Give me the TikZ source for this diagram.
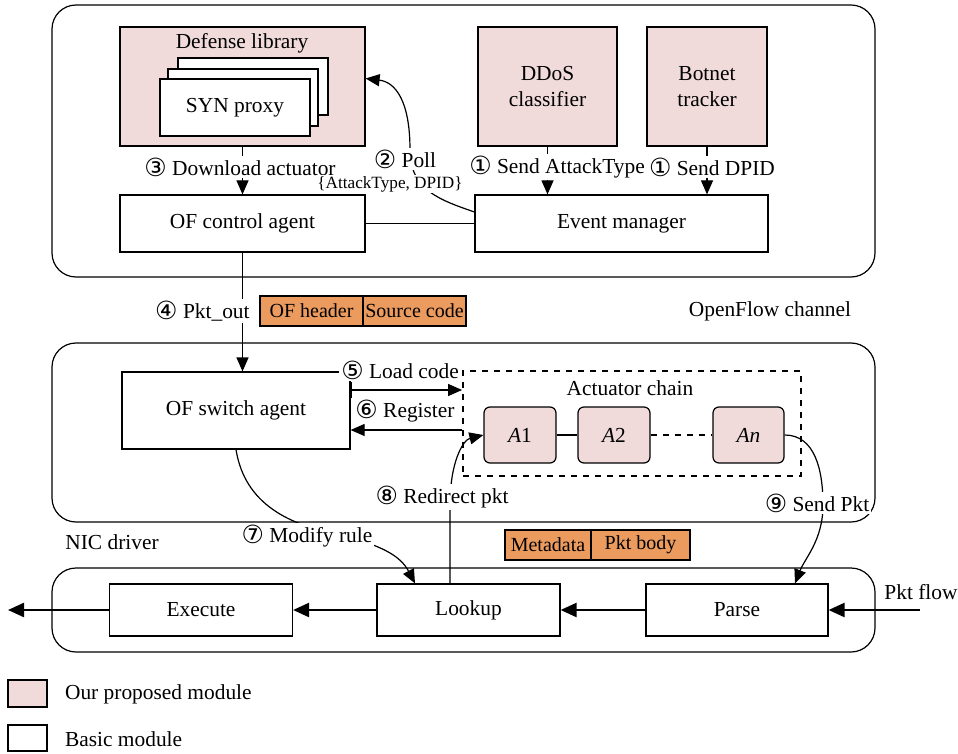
\documentclass[tikz,border=0pt]{standalone}
\usepackage{fontspec}
\setmainfont{Liberation Serif}
\newfontfamily\circfont{DejaVu Sans}
\usetikzlibrary{arrows.meta,calc}
\definecolor{pinkmod}{RGB}{240,218,218}
\definecolor{pktorange}{RGB}{236,155,95}
\newcommand{\circnum}[1]{{\circfont\fontsize{12.5}{12}\selectfont\raisebox{-0.3pt}{#1}}}

\begin{document}
\begin{tikzpicture}[x=0.5pt,y=-0.5pt,
  font=\fontsize{10.7}{12.8}\selectfont,
  wh/.style 2 args={minimum width=#1*0.5pt,minimum height=#2*0.5pt},
  box/.style={draw, line width=0.6pt, fill=white, inner sep=0pt, align=center},
  prop/.style={box, fill=pinkmod},
  act/.style={prop, rounded corners=3pt},
  pkt/.style={draw, line width=0.6pt, fill=pktorange, inner sep=0pt, font=\fontsize{10}{12}\selectfont},
  region/.style={draw, line width=0.6pt, rounded corners=12pt},
  lab/.style={fill=white, inner sep=1pt},
  arr/.style={-{Triangle[length=7pt,width=6pt]}, line width=0.6pt},
  flow/.style={-{Triangle[length=8pt,width=7pt]}, line width=1.2pt}]

\useasboundingbox (0,0) rectangle (958,754);

% the three planes
\draw[region] (52,5) rectangle (875,277);
\draw[region] (52,343) rectangle (875,522);
\draw[region] (52,568) rectangle (875,652);

% control plane modules
\node[prop, wh={245}{119}] (deflib) at (242.5,86.5) {};
\node (deflibtitle) at (242,43) {Defense library};
\node[box, wh={150}{57}] (cardc) at (253,86.5) {};
\node[box, wh={150}{57}] (cardb) at (243,97.5) {};
\node[box, wh={150}{57}] (carda) at (235,107.5) {SYN proxy};
\node[prop, wh={139}{119}] (ddos) at (547.5,86.5) {DDoS\\classifier};
\node[prop, wh={120}{119}] (botnet) at (707,86.5) {Botnet\\tracker};
\node[box, wh={245}{57}] (ofctrl) at (242.5,223.5) {OF control agent};
\node[box, wh={293}{57}] (evmgr) at (621.5,223.5) {Event manager};

% OpenFlow message
\node[pkt, wh={103}{30}] (ofh) at (311.5,311) {OF header};
\node[pkt, wh={103}{30}] (src) at (414.5,311) {Source code};
\node (ofchan) at (770,311) {OpenFlow channel};

% switch plane
\node[box, wh={228}{77}] (ofsw) at (236,410.5) {OF switch agent};
\node[draw, dashed, line width=0.9pt, wh={338}{105}, inner sep=0pt] (chain) at (632,423.5) {};
\node (chaintitle) at (630,388) {Actuator chain};
\node[act, wh={72}{56}] (a1) at (520,435) {\textit{A}1};
\node[act, wh={72}{56}] (a2) at (614,435) {\textit{A}2};
\node[act, wh={71}{56}] (an) at (748.5,435) {\textit{An}};

% packet with metadata
\node[pkt, wh={86}{30}] (meta) at (548,545) {Metadata};
\node[pkt, wh={99}{30}] (body) at (640.5,545) {Pkt body};
\node (nic) at (112,542) {NIC driver};

% data path
\node[box, wh={183}{52}] (exec) at (201,610) {Execute};
\node[box, wh={183}{52}] (lookup) at (468.5,610) {Lookup};
\node[box, wh={182}{52}] (parse) at (737,610) {Parse};
\node (pktflow) at (921,592) {Pkt flow};
\coordinate (pktin) at (920,610);
\coordinate (pktout) at (8,610);

% legend
\node[prop, wh={39}{27}] (legp) at (27.5,693.5) {};
\node[anchor=west] (legptext) at (58,694) {Our proposed module};
\node[box, wh={39}{26}] (legb) at (27.5,738) {};
\node[anchor=west] (legbtext) at (58,739) {Basic module};

% control plane connectors
\draw[arr] (deflib) -- (ofctrl);
\draw[arr] (ddos.south) -- (ddos.south |- evmgr.north);
\draw[arr] (botnet.south) -- (botnet.south |- evmgr.north);
\draw[line width=0.6pt] (ofctrl.east) -- (evmgr.west);
\coordinate (pollstart) at ([yshift=5.75pt]evmgr.west);
\draw[arr] (pollstart) .. controls (440,200) and (410,190) .. (410,150)
  .. controls (410,100) and (395,82) .. ([yshift=4pt]deflib.east);

% control to switch
\draw[arr] (ofctrl.south) -- (ofctrl.south |- ofsw.north);

% switch plane connectors
\draw[{Bar[width=8pt]}-{Triangle[length=7pt,width=6pt]}, line width=0.6pt]
  ([yshift=10.25pt]ofsw.east) -- ([yshift=10.25pt]ofsw.east -| chain.west);
\draw[arr] ([yshift=-9.75pt]ofsw.east -| chain.west) -- ([yshift=-9.75pt]ofsw.east);
\draw[line width=0.6pt] (a1) -- (a2);
\draw[line width=0.6pt, dashed] (a2) -- (an);

% cross-plane connectors
\coordinate (modend) at ([xshift=-26.75pt]lookup.north);
\draw[arr] (ofsw.south) .. controls (245,505) and (290,525) .. (340,535)
  .. controls (380,545) and (400,555) .. (modend);
\coordinate (redstart) at ([xshift=-9.25pt]lookup.north);
\draw[arr] (redstart) -- (450,505) .. controls (450,462) and (463,440) .. (a1.west);
\coordinate (sendend) at ([xshift=29pt]parse.north);
\draw[arr] (an.east) .. controls (815,435) and (823,470) .. (823,505)
  .. controls (823,540) and (805,558) .. (sendend);

% data path arrows
\draw[flow] (pktin) -- (parse.east);
\draw[flow] (parse.west) -- (lookup.east);
\draw[flow] (lookup.west) -- (exec.east);
\draw[flow] (exec.west) -- (pktout);

% step labels
\node[lab] (ldownload) at (240,167) {\circnum{③} Download actuator};
\node[lab] (lpoll) at (405,159) {\circnum{②} Poll};
\node[lab, font=\fontsize{8.6}{10}\selectfont, inner sep=0.5pt] (lpollargs) at (390,184) {\{AttackType, DPID\}};
\node[lab] (lsendtype) at (557,167) {\circnum{①} Send AttackType};
\node[lab] (lsenddpid) at (712,167) {\circnum{①} Send DPID};
\node[lab, anchor=east] (lpktout) at (252,311) {\circnum{④} Pkt\_out};
\node[lab] (lload) at (400,370) {\circnum{⑤} Load code};
\node[lab] (lreg) at (405,411) {\circnum{⑥} Register};
\node[lab] (lmodify) at (307,536) {\circnum{⑦} Modify rule};
\node[lab] (lredirect) at (442,497) {\circnum{⑧} Redirect pkt};
\node[lab] (lsend) at (817,503) {\circnum{⑨} Send Pkt};
\end{tikzpicture}
\end{document}
